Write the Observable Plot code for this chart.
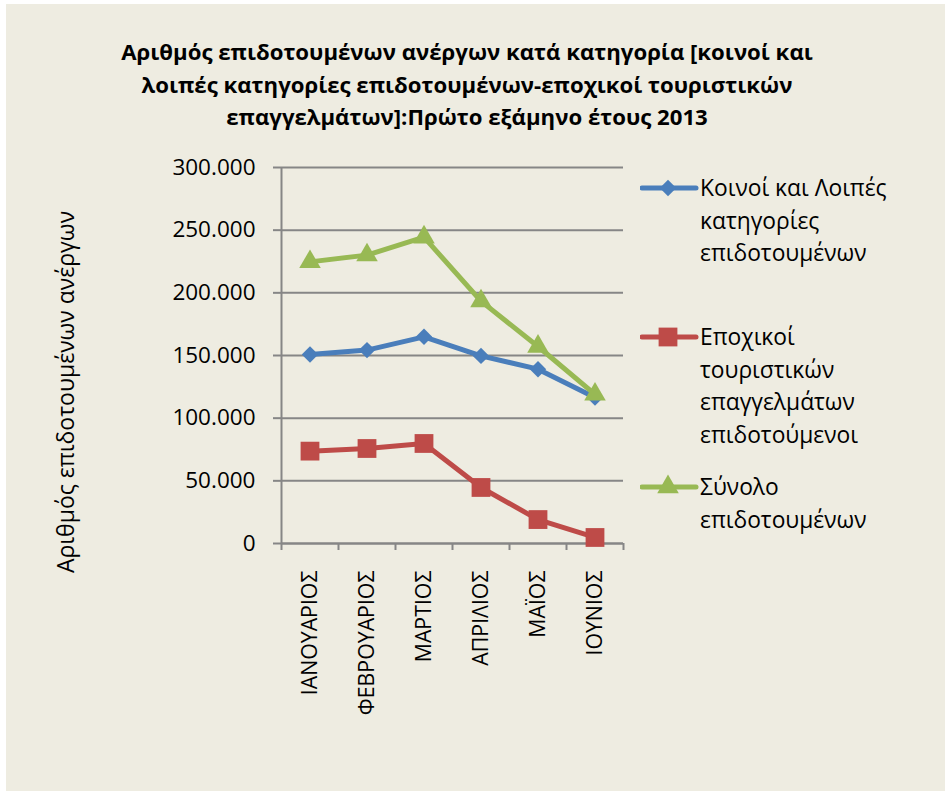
<!DOCTYPE html>
<html>
<head>
<meta charset="utf-8">
<script src="https://cdn.jsdelivr.net/npm/d3@7"></script>
<script src="https://cdn.jsdelivr.net/npm/@observablehq/plot@0.6"></script>
<style>
  html, body { margin: 0; padding: 0; background: #ffffff; }
  #wrap { position: relative; width: 945px; height: 791px; background: #ffffff; overflow: hidden; font-family: "Open Sans", "Noto Sans", sans-serif; color: #000; }
  #bg { position: absolute; left: 6px; top: 4px; width: 939px; height: 787px; background: #EEECE1; }
  #title { position: absolute; left: 0; width: 934px; top: 36px; text-align: center; font-weight: bold; font-size: 22.2px; line-height: 32.5px; white-space: nowrap; }
  #ylabel { position: absolute; left: 65px; top: 392px; transform: translate(-50%, -50%) rotate(-90deg); white-space: nowrap; font-size: 23px; }
  #legend { position: absolute; left: 640px; top: 172px; font-size: 22.8px; line-height: 32.5px; }
  .item { position: absolute; left: 0; white-space: nowrap; }
  .item svg { position: absolute; left: 0; top: 0; }
  .item .txt { position: absolute; left: 60px; top: 0; }
  #chart { position: absolute; left: 0; top: 0; }
</style>
</head>
<body>
<div id="wrap">
  <div id="bg"></div>
  <div id="chart"></div>
  <div id="title"></div>
  <div id="ylabel"></div>
  <div id="legend"></div>
</div>
<script>
// ---- Data ----
const titleLines = [
  "Αριθμός επιδοτουμένων ανέργων κατά κατηγορία [κοινοί και",
  "λοιπές κατηγορίες επιδοτουμένων-εποχικοί τουριστικών",
  "επαγγελμάτων]:Πρώτο εξάμηνο έτους 2013"
];
const yLabel = "Αριθμός επιδοτουμένων ανέργων";
const months = ["ΙΑΝΟΥΑΡΙΟΣ", "ΦΕΒΡΟΥΑΡΙΟΣ", "ΜΑΡΤΙΟΣ", "ΑΠΡΙΛΙΟΣ", "ΜΑΪΟΣ", "ΙΟΥΝΙΟΣ"];
const koinoi = [150800, 154300, 164900, 149700, 139100, 116500];
const epoxikoi = [73700, 75800, 79800, 44700, 19100, 4800];
const synolo = [224700, 230100, 244400, 193400, 157200, 119000];
const seriesNames = [
  ["Κοινοί και Λοιπές", "κατηγορίες", "επιδοτουμένων"],
  ["Εποχικοί", "τουριστικών", "επαγγελμάτων", "επιδοτούμενοι"],
  ["Σύνολο", "επιδοτουμένων"]
];
const yTicks = [0, 50000, 100000, 150000, 200000, 250000, 300000];

// ---- Styles ----
const colors = ["#4A7EBB", "#BE4B48", "#98B954"];
const symbols = ["diamond2", "square", "triangle"];
const radii = [7.4, 10.6, 8.0];
const gridColor = "#868686";

const series = [koinoi, epoxikoi, synolo];
const fmt = d3.formatLocale({decimal: ",", thousands: ".", grouping: [3], currency: ["", "€"]}).format(",");

const marks = [
  Plot.gridY(yTicks, {stroke: gridColor, strokeOpacity: 1, strokeWidth: 2}),
  Plot.axisY(yTicks, {tickSize: 8, tickPadding: 18, stroke: gridColor, strokeWidth: 2,
    tickFormat: d => fmt(d), fontSize: 22.5, label: null}),
  Plot.ruleY([0], {stroke: gridColor, strokeWidth: 2}),
  Plot.axisX(d3.range(-0.5, months.length + 0.5, 1), {tickSize: 7, stroke: gridColor, strokeWidth: 2,
    tickFormat: () => "", label: null}),
  Plot.ruleX([-0.5], {stroke: gridColor, strokeWidth: 2}),
  Plot.axisX(d3.range(months.length), {tickSize: 0, tickPadding: 27, tickRotate: -90,
    tickFormat: i => months[i], fontSize: 21.3, label: null})
];
series.forEach((vals, k) => {
  const data = vals.map((v, i) => ({i, v}));
  marks.push(Plot.line(data, {x: "i", y: "v", stroke: colors[k], strokeWidth: 5, strokeLinejoin: "round"}));
  marks.push(Plot.dot(data, {x: "i", y: "v", symbol: symbols[k], r: radii[k], fill: colors[k], stroke: "none"}));
});

const chart = Plot.plot({
  width: 945,
  height: 791,
  marginLeft: 281,
  marginRight: 322,
  marginTop: 167,
  marginBottom: 248,
  style: {background: "transparent", fontFamily: "'Open Sans', 'Noto Sans', sans-serif", color: "#000"},
  x: {type: "linear", domain: [-0.5, months.length - 0.5]},
  y: {domain: [0, 300000]},
  marks
});
document.getElementById("chart").appendChild(chart);

// ---- Title & labels ----
document.getElementById("title").innerHTML = titleLines.map(t => `<div>${t}</div>`).join("");
document.getElementById("ylabel").textContent = yLabel;

// ---- Legend ----
const legendTops = [0, 149, 299];
const legend = document.getElementById("legend");
seriesNames.forEach((lines, k) => {
  const item = document.createElement("div");
  item.className = "item";
  item.style.top = legendTops[k] + "px";
  const sym = d3.symbol(d3["symbol" + {diamond2: "Diamond2", square: "Square", triangle: "Triangle"}[symbols[k]]], radii[k] * radii[k] * Math.PI)();
  item.innerHTML = `<svg width="60" height="32" viewBox="0 0 60 32">
      <line x1="2" x2="56" y1="16" y2="16" stroke="${colors[k]}" stroke-width="5" stroke-linecap="round"/>
      <path d="${sym}" transform="translate(28,16)" fill="${colors[k]}"/>
    </svg>
    <div class="txt">${lines.map(l => `<div>${l}</div>`).join("")}</div>`;
  legend.appendChild(item);
});
</script>
</body>
</html>
